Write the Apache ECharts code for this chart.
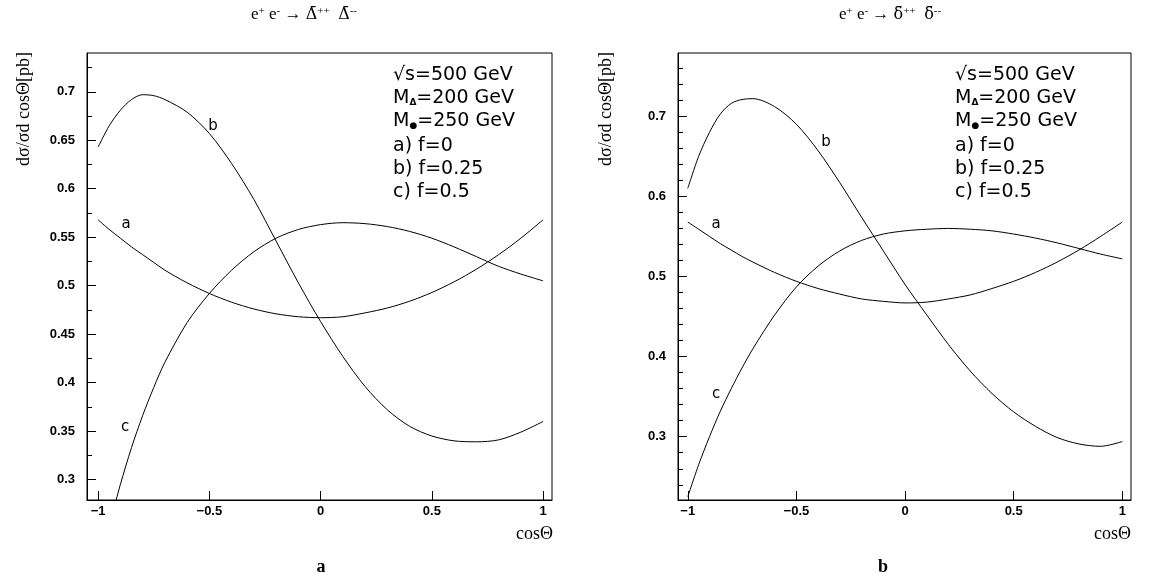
<!DOCTYPE html>
<html>
<head>
<meta charset="utf-8">
<script src="https://cdn.jsdelivr.net/npm/echarts@6/dist/echarts.min.js"></script>
<style>
  html, body { margin: 0; padding: 0; background: #fff; }
  #main { width: 1152px; height: 583px; }
</style>
</head>
<body>
<div id="main"></div>
<script>
// cos(theta) sample points, shared by all curves
const cosTheta = [-1, -0.95, -0.9, -0.85, -0.8, -0.75, -0.7, -0.6, -0.5, -0.4, -0.3, -0.2, -0.1, 0, 0.1, 0.2, 0.3, 0.4, 0.5, 0.6, 0.7, 0.8, 0.9, 1];

// panel a: Delta
const aLeft = [0.568, 0.558, 0.549, 0.540, 0.532, 0.524, 0.516, 0.503, 0.492, 0.483, 0.476, 0.471, 0.468, 0.467, 0.468, 0.472, 0.477, 0.484, 0.493, 0.504, 0.517, 0.532, 0.549, 0.568];
const bLeft = [0.643, 0.665, 0.681, 0.692, 0.697, 0.696, 0.692, 0.679, 0.657, 0.626, 0.589, 0.546, 0.503, 0.463, 0.427, 0.396, 0.372, 0.355, 0.345, 0.340, 0.339, 0.341, 0.349, 0.360];
const cLeft = [null, 0.252, 0.295, 0.333, 0.366, 0.395, 0.421, 0.462, 0.492, 0.516, 0.535, 0.549, 0.558, 0.563, 0.565, 0.564, 0.561, 0.556, 0.549, 0.540, 0.530, 0.520, 0.512, 0.505];

// panel b: delta
const aRight = [0.568, 0.559, 0.550, 0.541, 0.533, 0.525, 0.518, 0.505, 0.494, 0.485, 0.478, 0.472, 0.469, 0.467, 0.468, 0.472, 0.477, 0.485, 0.494, 0.505, 0.518, 0.533, 0.550, 0.568];
const bRight = [0.610, 0.650, 0.680, 0.703, 0.716, 0.721, 0.722, 0.712, 0.690, 0.657, 0.617, 0.574, 0.532, 0.490, 0.452, 0.415, 0.382, 0.354, 0.331, 0.313, 0.299, 0.291, 0.288, 0.294];
const cRight = [0.225, 0.265, 0.300, 0.332, 0.360, 0.386, 0.410, 0.452, 0.487, 0.513, 0.532, 0.545, 0.553, 0.557, 0.559, 0.560, 0.559, 0.557, 0.553, 0.548, 0.542, 0.535, 0.528, 0.522];

// tick values
const xTicks = [-1, -0.5, 0, 0.5, 1];
const yTicksLeft = [0.3, 0.35, 0.4, 0.45, 0.5, 0.55, 0.6, 0.65, 0.7];
const yMinorLeft = [0.325, 0.375, 0.425, 0.475, 0.525, 0.575, 0.625, 0.675, 0.725];
const yTicksRight = [0.3, 0.4, 0.5, 0.6, 0.7];
const yMinorRight = [0.24, 0.26, 0.28, 0.32, 0.34, 0.36, 0.38, 0.42, 0.44, 0.46, 0.48, 0.52, 0.54, 0.56, 0.58, 0.62, 0.64, 0.66, 0.68, 0.72, 0.74, 0.76, 0.78];

const labelFont = {
  fontFamily: "Liberation Sans",
  fontWeight: "bold",
  fontSize: 13,
  color: "#000",
};
const serif = "Liberation Serif";

function pairs(ys) {
  return cosTheta.map((x, i) => [x, ys[i]]);
}

function xAxisFor(gridIndex, min, max) {
  return {
    type: "value",
    gridIndex: gridIndex,
    position: "bottom",
    min: min,
    max: max,
    axisLine: { show: true, onZero: false, lineStyle: { color: "#000", width: 1 } },
    axisTick: { show: true, inside: true, length: 9, customValues: xTicks, lineStyle: { color: "#000" } },
    axisLabel: Object.assign({ margin: 5, customValues: xTicks, formatter: (v) => String(v).replace("-", "\u2212") }, labelFont),
    splitLine: { show: false },
  };
}

function yAxesFor(gridIndex, min, max, major, minor) {
  return [
    {
      type: "value",
      gridIndex: gridIndex,
      position: "left",
      min: min,
      max: max,
      axisLine: { show: true, onZero: false, lineStyle: { color: "#000", width: 1 } },
      axisTick: { show: true, inside: true, length: 9, customValues: major, lineStyle: { color: "#000" } },
      axisLabel: Object.assign({ margin: 12, customValues: major }, labelFont),
      splitLine: { show: false },
    },
    {
      type: "value",
      gridIndex: gridIndex,
      position: "left",
      offset: 0,
      min: min,
      max: max,
      axisLine: { show: false, onZero: false },
      axisTick: { show: true, inside: true, length: 5, customValues: minor, lineStyle: { color: "#000" } },
      axisLabel: { show: false },
      splitLine: { show: false },
    },
  ];
}

function curve(name, ys, gridIndex) {
  return {
    name: name,
    type: "line",
    xAxisIndex: gridIndex,
    yAxisIndex: gridIndex * 2,
    data: pairs(ys),
    smooth: 0.3,
    showSymbol: false,
    connectNulls: false,
    lineStyle: { color: "#000", width: 1 },
    clip: true,
  };
}

function text(x, y, str, style) {
  return { type: "text", x: x, y: y, style: Object.assign({ text: str, fill: "#000" }, style) };
}

const legendRich = {
  sub: { fontFamily: "DejaVu Sans", fontSize: 9, fontWeight: "bold", verticalAlign: "bottom", padding: [8, 0, 0, 0] },
};

function legendBlock(x0, y0) {
  const lines = [
    "\u221As=500 GeV",
    "M{sub|\u0394}=200 GeV",
    "M{sub|\u25CF}=250 GeV",
    "a) f=0",
    "b) f=0.25",
    "c) f=0.5",
  ];
  const ys = [0, 23, 46, 71, 94, 117];
  return lines.map((l, i) =>
    text(x0, y0 + ys[i], l, {
      font: "19px 'DejaVu Sans'",
      textVerticalAlign: "middle",
      rich: legendRich,
    })
  );
}

const titleRich = {
  sup: { fontFamily: serif, fontSize: 11, verticalAlign: "top", padding: [0, 0, 8, 0] },
  g: { fontFamily: "DejaVu Serif", fontSize: 16 },
};

function yTitle(x) {
  return {
    type: "text",
    x: x,
    y: 52,
    rotation: Math.PI / 2,
    style: { text: "d\u03C3/\u03C3d cos\u0398[pb]", font: "18px 'Liberation Serif'", fill: "#000", align: "right", verticalAlign: "middle" },
  };
}

const graphics = [
  text(304, 15, "e{sup|+} e{sup|-} \u2192 {g|\u0394\u0304}{sup|++}  {g|\u0394\u0304}{sup|--}", { font: "17px 'Liberation Serif'", align: "center", verticalAlign: "middle", rich: titleRich }),
  text(890, 15, "e{sup|+} e{sup|-} \u2192 {g|\u03B4\u0304}{sup|++}  {g|\u03B4\u0304}{sup|--}", { font: "17px 'Liberation Serif'", align: "center", verticalAlign: "middle", rich: titleRich }),
  yTitle(24),
  yTitle(606),
  text(553, 534, "cos\u0398", { font: "18px 'Liberation Serif'", align: "right", verticalAlign: "middle" }),
  text(1131, 534, "cos\u0398", { font: "18px 'Liberation Serif'", align: "right", verticalAlign: "middle" }),
  text(321, 567, "a", { font: "bold 18px 'Liberation Serif'", align: "center", verticalAlign: "middle" }),
  text(883, 567, "b", { font: "bold 18px 'Liberation Serif'", align: "center", verticalAlign: "middle" }),
  // curve tags
  text(213, 126, "b", { font: "15px 'DejaVu Sans'", align: "center", verticalAlign: "middle" }),
  text(126, 224, "a", { font: "15px 'DejaVu Sans'", align: "center", verticalAlign: "middle" }),
  text(125, 427, "c", { font: "15px 'DejaVu Sans'", align: "center", verticalAlign: "middle" }),
  text(826, 142, "b", { font: "15px 'DejaVu Sans'", align: "center", verticalAlign: "middle" }),
  text(716, 224, "a", { font: "15px 'DejaVu Sans'", align: "center", verticalAlign: "middle" }),
  text(716, 394, "c", { font: "15px 'DejaVu Sans'", align: "center", verticalAlign: "middle" }),
]
  .concat(legendBlock(393, 75))
  .concat(legendBlock(955, 75));

const option = {
  backgroundColor: "#fff",
  animation: false,
  grid: [
    { left: 87, top: 53, width: 465, height: 447, show: true, borderColor: "#000", borderWidth: 1, containLabel: false },
    { left: 678, top: 53, width: 453, height: 447, show: true, borderColor: "#000", borderWidth: 1, containLabel: false },
  ],
  xAxis: [xAxisFor(0, -1.05, 1.04), xAxisFor(1, -1.045, 1.04)],
  yAxis: yAxesFor(0, 0.279, 0.74, yTicksLeft, yMinorLeft).concat(yAxesFor(1, 0.221, 0.779, yTicksRight, yMinorRight)),
  series: [
    curve("a", aLeft, 0),
    curve("b", bLeft, 0),
    curve("c", cLeft, 0),
    curve("a", aRight, 1),
    curve("b", bRight, 1),
    curve("c", cRight, 1),
  ],
  graphic: graphics,
};

const myChart = echarts.init(document.getElementById("main"));
myChart.setOption(option);
window.onresize = function () {
  myChart.resize();
};
</script>
</body>
</html>
